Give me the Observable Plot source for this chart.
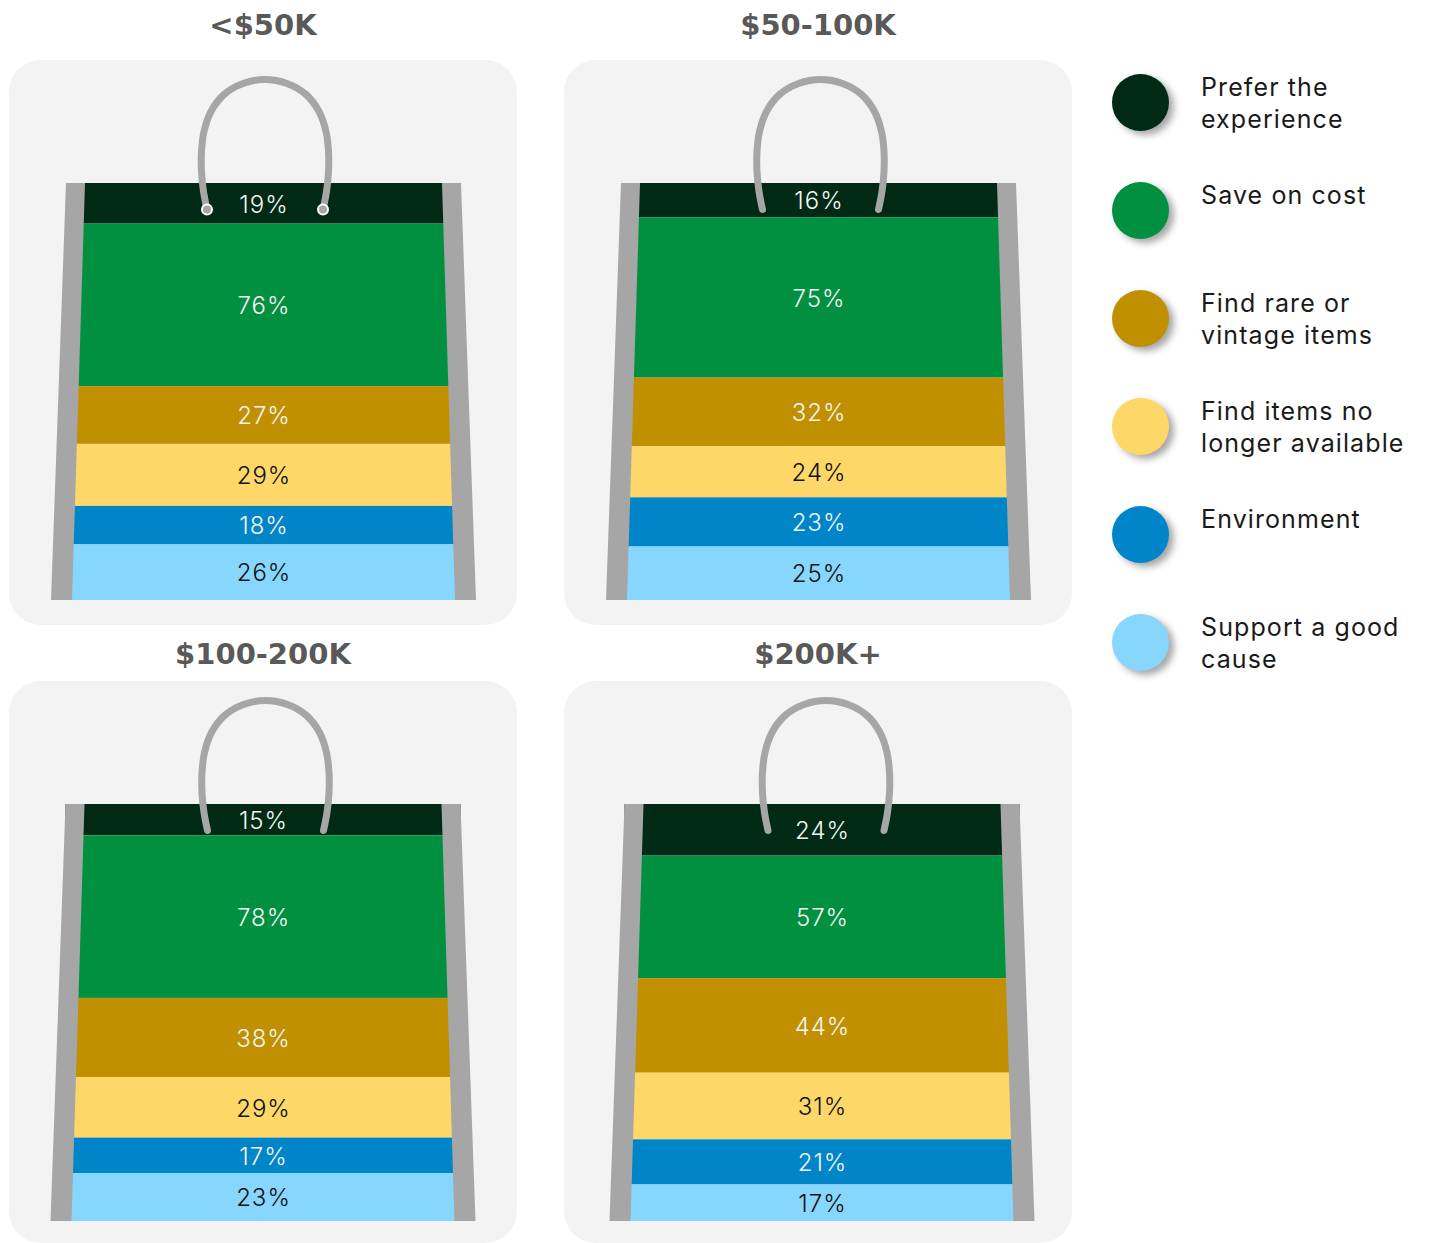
<!DOCTYPE html>
<html>
<head>
<meta charset="utf-8">
<script src="https://cdn.jsdelivr.net/npm/d3@7"></script>
<script src="https://cdn.jsdelivr.net/npm/@observablehq/plot@0.6"></script>
<style>
  body { margin: 0; background: #ffffff; }
  #root { position: relative; width: 1429px; height: 1243px; overflow: hidden; font-family: Inter, "Open Sans", sans-serif; }
  .panel { position: absolute; width: 508px; }
  .panel svg { display: block; }
  .panel svg text { letter-spacing: 1px; }
  .title { position: absolute; width: 508px; text-align: center; font-family: "DejaVu Sans", sans-serif; font-weight: bold; font-size: 29px; line-height: 36px; color: #595959; }
  .legend-item { position: absolute; left: 1112px; width: 317px; }
  .legend-dot { position: absolute; left: 0; width: 57px; height: 57px; border-radius: 50%; box-shadow: 5px 4px 7px rgba(0,0,0,0.35); }
  .legend-text { position: absolute; left: 89px; width: 228px; font-size: 25px; font-weight: 400; line-height: 32px; color: #1a1a1a; letter-spacing: 1.1px; }
</style>
</head>
<body>
<div id="root"></div>
<script>
// ---- data ----
const incomeGroups = ["<$50K", "$50-100K", "$100-200K", "$200K+"];
const reasons = [
  "Prefer the experience",
  "Save on cost",
  "Find rare or vintage items",
  "Find items no longer available",
  "Environment",
  "Support a good cause"
];
const reasonColors = ["#002a15", "#009040", "#c09000", "#fdd868", "#0085c9", "#87d6fd"];
const labelColors = ["#f4f4f4", "#f4f4f4", "#f4f4f4", "#111111", "#f4f4f4", "#111111"];
const shareLt50K = [19, 76, 27, 29, 18, 26];
const share50to100K = [16, 75, 32, 24, 23, 25];
const share100to200K = [15, 78, 38, 29, 17, 23];
const share200KPlus = [24, 57, 44, 31, 21, 17];
const shares = [shareLt50K, share50to100K, share100to200K, share200KPlus];

// ---- layout (panel placement & bag geometry) ----
const panelLayout = [
  {left: 9,   top: 60,  h: 565, titleTop: 7,   bagDx: 0,   handleDx: 1,   rings: true},
  {left: 564, top: 60,  h: 565, titleTop: 7,   bagDx: 0,   handleDx: 1.5, rings: false},
  {left: 9,   top: 681, h: 562, titleTop: 636, bagDx: -0.5, handleDx: 1.5, rings: false},
  {left: 564, top: 681, h: 562, titleTop: 636, bagDx: 3.5, handleDx: 7,   rings: false}
];
const bagPx = 417;            // bag body height in px
const halfTopOuter = 197.5, halfBottomOuter = 212.5, stripTop = 19, stripBottom = 21;
// handle centerline, px offsets from the top centre of the bag (up = positive)
const handleShape = [
  [-58, -26], [-61.5, -8], [-63.5, 12], [-63.5, 32], [-61, 52], [-54, 72], [-41, 89],
  [-22, 100], [0, 104], [22, 100], [41, 89], [54, 72], [61, 52], [63.5, 32],
  [63.5, 12], [61.5, -8], [58, -26]
];
const legendCenters = [102, 210, 318, 426, 534, 642];

const root = document.getElementById("root");
const gray = "#a6a6a6";

incomeGroups.forEach((group, i) => {
  const L = panelLayout[i];
  const rows = reasons.map((r, j) => ({
    reason: r,
    value: shares[i][j],
    label: shares[i][j] + "%",
    color: reasonColors[j],
    labelColor: labelColors[j]
  }));
  const order = reasons.slice().reverse(); // bottom first
  const stack = (o) => Plot.stackY({offset: "normalize", order, z: "reason", y: "value", ...o});

  const leftStrip = [
    {y: 0, x1: L.bagDx - halfBottomOuter, x2: L.bagDx - halfBottomOuter + stripBottom},
    {y: 1, x1: L.bagDx - halfTopOuter, x2: L.bagDx - halfTopOuter + stripTop}
  ];
  const rightStrip = [
    {y: 0, x1: L.bagDx + halfBottomOuter - stripBottom, x2: L.bagDx + halfBottomOuter},
    {y: 1, x1: L.bagDx + halfTopOuter - stripTop, x2: L.bagDx + halfTopOuter}
  ];
  const handle = handleShape.map(([hx, hy]) => ({x: L.handleDx + hx, y: 1 + hy / bagPx}));
  const ends = [handle[0], handle[handle.length - 1]];

  const marks = [
    Plot.rectY(rows, stack({
      x1: () => L.bagDx - halfTopOuter,
      x2: () => L.bagDx + halfTopOuter,
      fill: "color"
    })),
    Plot.areaX(leftStrip, {y: "y", x1: "x1", x2: "x2", fill: gray}),
    Plot.areaX(rightStrip, {y: "y", x1: "x1", x2: "x2", fill: gray}),
    Plot.line(handle, {x: "x", y: "y", stroke: gray, strokeWidth: 7, strokeLinecap: "round", curve: "catmull-rom"}),
    Plot.text(rows, stack({
      x: () => L.bagDx,
      text: "label",
      fill: "labelColor",
      fontSize: 24,
      fontFamily: "Inter, 'Open Sans', sans-serif",
      fontWeight: 300,
      dy: 1
    }))
  ];
  if (L.rings) {
    marks.push(Plot.dot(ends, {x: "x", y: "y", r: 5, fill: gray, stroke: "#ffffff", strokeWidth: 2}));
  }

  const chart = Plot.plot({
    width: 508,
    height: L.h,
    marginLeft: 0,
    marginRight: 0,
    marginTop: 123,
    marginBottom: L.h - 123 - bagPx,
    x: {domain: [-254.5, 253.5], axis: null},
    y: {domain: [0, 1], axis: null},
    color: {type: "identity"},
    style: {background: "#f3f3f3", borderRadius: "32px", overflow: "hidden"},
    marks
  });

  const panel = document.createElement("div");
  panel.className = "panel";
  panel.style.left = L.left + "px";
  panel.style.top = L.top + "px";
  panel.appendChild(chart);
  root.appendChild(panel);

  const title = document.createElement("div");
  title.className = "title";
  title.style.left = L.left + "px";
  title.style.top = L.titleTop + "px";
  title.textContent = group;
  root.appendChild(title);
});

reasons.forEach((r, j) => {
  const item = document.createElement("div");
  item.className = "legend-item";
  item.style.top = (legendCenters[j] - 28.5) + "px";
  const dot = document.createElement("div");
  dot.className = "legend-dot";
  dot.style.background = reasonColors[j];
  const text = document.createElement("div");
  text.className = "legend-text";
  text.style.top = "-3px";
  text.textContent = r;
  item.appendChild(dot);
  item.appendChild(text);
  root.appendChild(item);
});
</script>
</body>
</html>
